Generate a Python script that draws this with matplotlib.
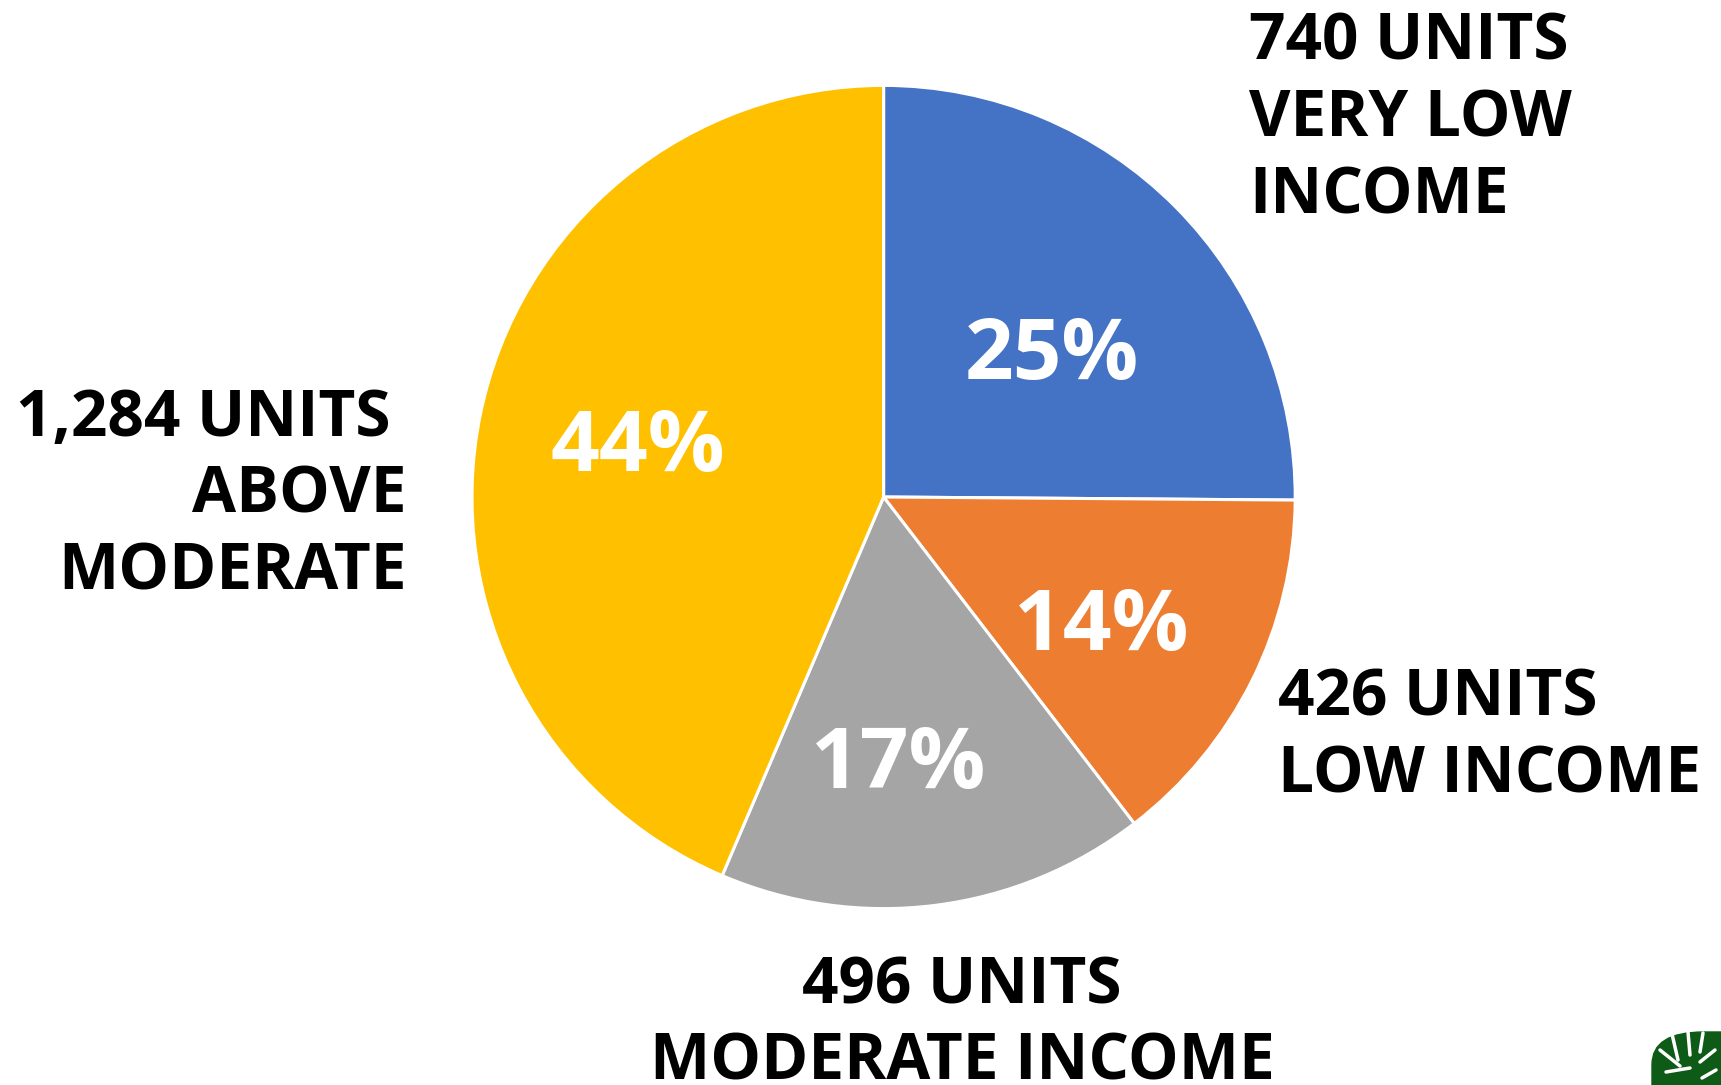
import matplotlib.pyplot as plt
import matplotlib.patches as mpatches
import matplotlib.transforms as mtransforms
import numpy as np

plt.rcParams['font.family'] = ['Open Sans', 'DejaVu Sans']

# units by income category (clockwise from 12 o'clock)
units = [740, 426, 496, 1284]
categories = ['VERY LOW\nINCOME', 'LOW INCOME', 'MODERATE INCOME', 'ABOVE\nMODERATE']
colors = ['#4472C4', '#ED7D31', '#A5A5A5', '#FFC000']
# how far out each percent label sits, and a small angle nudge (deg)
pct_dist = [0.54, 0.61, 0.64, 0.61]
pct_nudge = [-4, -3.5, -4, -0.7]

W, H = 1721, 1085
fig = plt.figure(figsize=(W / 100, H / 100), dpi=100)

# pie centre / radius in pixels
cx, cy, r = 883.6, 497.0, 411.6
ax = fig.add_axes([(cx - r) / W, (H - cy - r) / H, 2 * r / W, 2 * r / H])

wedges, _ = ax.pie(units, colors=colors, startangle=90, counterclock=False,
                   radius=1, wedgeprops=dict(edgecolor='white', linewidth=2.2))
ax.set_xlim(-1, 1)
ax.set_ylim(-1, 1)
ax.set_aspect('equal')
ax.axis('off')

# percent labels, pushed a few points down
tr = mtransforms.offset_copy(ax.transData, fig=fig, x=0, y=-4, units='points')
total = sum(units)
for w, v, d, n in zip(wedges, units, pct_dist, pct_nudge):
    ang = np.deg2rad((w.theta1 + w.theta2) / 2 + n)
    ax.text(d * np.cos(ang), d * np.sin(ang), '{:.0f}%'.format(100 * v / total),
            color='white', fontsize=61.5, fontweight='bold', ha='center', va='center',
            transform=tr)

lbl = dict(fontsize=46, fontweight='bold', color='black', linespacing=1.24)
labels = ['{:,} UNITS\n{}'.format(u, c) for u, c in zip(units, categories)]

def px(x, y):
    return x / W, 1 - y / H

fig.text(*px(1249, 11), labels[0], ha='left', va='top', **lbl)
fig.text(*px(1278, 667), labels[1], ha='left', va='top', **lbl)
fig.text(*px(962, 954), labels[2], ha='center', va='top', multialignment='center', **lbl)
fig.text(*px(407, 387), labels[3].replace('UNITS', 'UNITS '), ha='right', va='top',
         multialignment='right', **lbl)

# tree logo peeking in from the bottom right corner
logo = mpatches.FancyBboxPatch(px(1652, 1120), 120 / W, 88 / H,
                               boxstyle='round,pad=0,rounding_size=0.03',
                               transform=fig.transFigure, color='#0D5B16', clip_on=False)
fig.patches.append(logo)
for x0, y0, x1, y1 in [(1672, 1034, 1678, 1060), (1688, 1032, 1690, 1055),
                       (1703, 1033, 1700, 1052), (1660, 1050, 1680, 1066),
                       (1666, 1072, 1690, 1068), (1700, 1062, 1715, 1050),
                       (1702, 1078, 1716, 1070)]:
    fig.lines.append(plt.Line2D([x0 / W, x1 / W], [1 - y0 / H, 1 - y1 / H],
                                transform=fig.transFigure, color='white', lw=2.5,
                                solid_capstyle='round'))

fig.savefig('out.png', dpi=100)
